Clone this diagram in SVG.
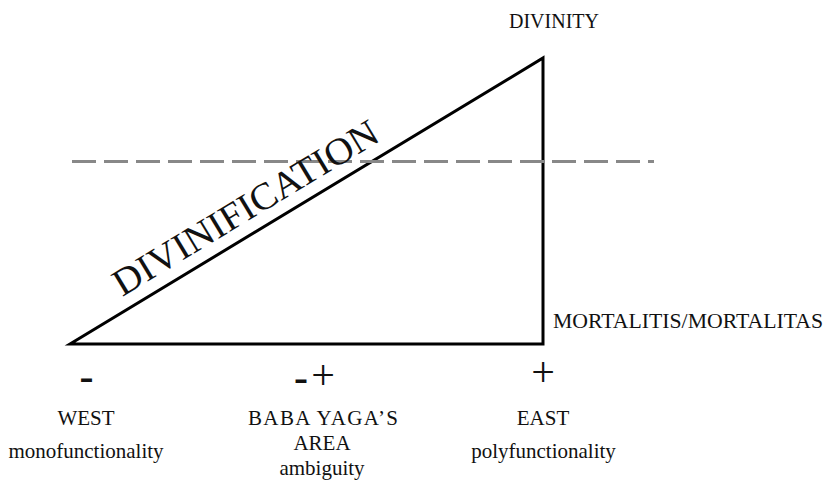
<svg xmlns="http://www.w3.org/2000/svg" width="824" height="480" viewBox="0 0 824 480">
<style>
.t{font-family:"Liberation Serif","Times New Roman",serif;fill:#111;}
.lbl{font-size:21px;text-anchor:middle;}
.sign{font-size:42px;text-anchor:middle;}
.dash{font-size:42px;font-weight:bold;text-anchor:middle;}
</style>
<rect width="824" height="480" fill="#fff"/>
<g id="triangle">
<polygon points="70,344 543,58 543,344" fill="none" stroke="#000" stroke-width="3" stroke-linejoin="miter"/>
</g>
<g id="connectors">
<line x1="72" y1="161.5" x2="654" y2="161.5" stroke="#888" stroke-width="3" stroke-dasharray="24 8"/>
</g>
<g id="divinification">
<text class="t" font-size="38" text-anchor="middle" transform="translate(252,218.5) rotate(-31.16)" textLength="303" lengthAdjust="spacingAndGlyphs">DIVINIFICATION</text>
</g>
<g id="divinity">
<text class="t" x="554" y="28" font-size="20" text-anchor="middle">DIVINITY</text>
</g>
<g id="mortalitas">
<text class="t" x="553" y="328" font-size="21" textLength="270" lengthAdjust="spacingAndGlyphs">MORTALITIS/MORTALITAS</text>
</g>
<g id="west">
<text class="t dash" x="86.5" y="390">-</text>
<text class="t lbl" x="86" y="425">WEST</text>
<text class="t lbl" x="86" y="458">monofunctionality</text>
</g>
<g id="babayaga">
<text class="t dash" x="301" y="391">-</text>
<text class="t sign" x="323" y="389">+</text>
<text class="t lbl" x="323" y="425" textLength="150" lengthAdjust="spacing">BABA YAGA’S</text>
<text class="t lbl" x="322" y="450">AREA</text>
<text class="t lbl" x="322" y="475">ambiguity</text>
</g>
<g id="east">
<text class="t sign" x="543" y="386">+</text>
<text class="t lbl" x="543" y="425">EAST</text>
<text class="t lbl" x="543.5" y="458">polyfunctionality</text>
</g>
</svg>
